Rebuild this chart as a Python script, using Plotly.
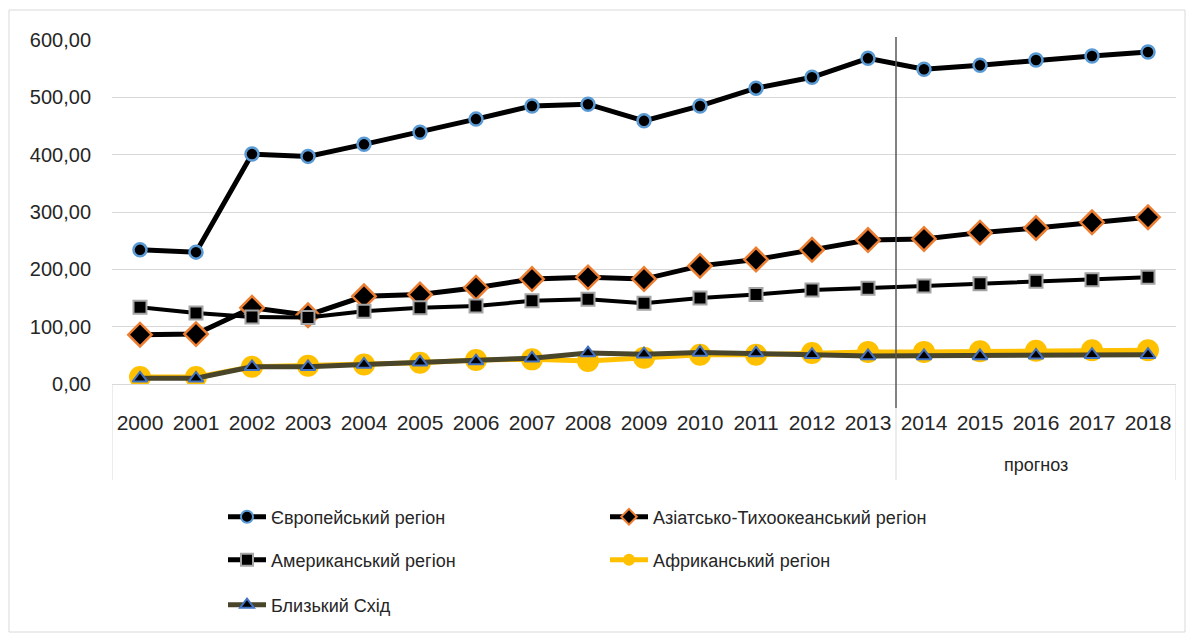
import plotly.graph_objects as go

years = ["2000", "2001", "2002", "2003", "2004", "2005", "2006", "2007", "2008", "2009",
         "2010", "2011", "2012", "2013", "2014", "2015", "2016", "2017", "2018"]

europe = [234, 230, 401, 397, 418, 439, 462, 485, 488, 459, 485, 516, 535, 568, 549, 556, 565, 572, 579]
asia = [86, 87, 133, 120, 153, 156, 168, 183, 186, 183, 206, 217, 234, 251, 253, 264, 272, 282, 291]
america = [134, 124, 117, 116, 127, 133, 136, 145, 148, 141, 150, 156, 164, 167, 171, 175, 179, 182, 186]
africa = [12, 12, 30, 32, 34, 37, 42, 43, 40, 46, 51, 51, 54, 56, 56, 57, 58, 59, 59]
mideast = [10, 10, 30, 30, 34, 38, 40, 45, 54, 52, 55, 54, 51, 49, 49, 49, 50, 51, 51]

forecast_label = "прогноз"
forecast_start = "2014"

W, H = 1192, 637
L, R, T, B = 112, 16, 40, 253
pw, ph = W - L - R, H - T - B

x = list(range(len(years)))

FONT = "Liberation Sans, Arial, sans-serif"
TXT = "#262626"


def px_x(px):
    return (px - L) / pw


def px_y(py):
    return (H - B - py) / ph


fig = go.Figure()
fig.add_trace(go.Scatter(
    x=x, y=europe, name="Європейський регіон", mode="lines+markers", legend="legend",
    line=dict(color="black", width=5),
    marker=dict(symbol="circle", size=13, color="black", line=dict(color="#5b9bd5", width=2.5))))
fig.add_trace(go.Scatter(
    x=x, y=asia, name="Азіатсько-Тихоокеанський регіон", mode="lines+markers", legend="legend",
    line=dict(color="black", width=5),
    marker=dict(symbol="diamond", size=18, color="black", line=dict(color="#ed7d31", width=2.5))))
fig.add_trace(go.Scatter(
    x=x, y=america, name="Американський регіон", mode="lines+markers", legend="legend2",
    line=dict(color="black", width=4),
    marker=dict(symbol="square", size=13, color="black", line=dict(color="#a5a5a5", width=2))))
fig.add_trace(go.Scatter(
    x=x, y=africa, name="Африканський регіон", mode="lines+markers", legend="legend2",
    line=dict(color="#ffc000", width=5),
    marker=dict(symbol="circle", size=22, color="#ffc000", line=dict(color="#ffc000", width=0))))
fig.add_trace(go.Scatter(
    x=x, y=mideast, name="Близький Схід", mode="lines+markers", legend="legend3",
    line=dict(color="#48452b", width=5),
    marker=dict(symbol="triangle-up", size=13, color="black", line=dict(color="#4472c4", width=2))))

split = years.index(forecast_start) - 0.5
n = len(years)

shapes = [
    dict(type="line", xref="x", yref="paper", x0=split, x1=split, y0=px_y(408), y1=px_y(37),
         line=dict(color="#595959", width=1.5), layer="above"),
    dict(type="line", xref="x", yref="paper", x0=split, x1=split, y0=px_y(480), y1=px_y(408),
         line=dict(color="#d9d9d9", width=1)),
    dict(type="line", xref="x", yref="paper", x0=-0.5, x1=-0.5, y0=px_y(480), y1=0,
         line=dict(color="#d9d9d9", width=1)),
    dict(type="line", xref="x", yref="paper", x0=n - 0.5, x1=n - 0.5, y0=px_y(480), y1=0,
         line=dict(color="#d9d9d9", width=1)),
    dict(type="rect", xref="paper", yref="paper",
         x0=px_x(9), x1=px_x(1185), y0=px_y(632), y1=px_y(10),
         line=dict(color="#d9d9d9", width=1)),
]


def leg(row_y):
    return dict(orientation="h", x=px_x(223), y=px_y(row_y), xanchor="left", yanchor="middle",
                entrywidth=329, itemwidth=38, itemsizing="constant",
                font=dict(family=FONT, size=18, color=TXT),
                traceorder="normal", bgcolor="rgba(0,0,0,0)")


fig.update_layout(
    width=W, height=H,
    margin=dict(l=L, r=R, t=T, b=B),
    paper_bgcolor="white", plot_bgcolor="white",
    font=dict(family=FONT, size=20, color=TXT),
    shapes=shapes,
    annotations=[dict(text=forecast_label, xref="x", yref="paper",
                      x=(split + n - 0.5) / 2, y=px_y(465), yanchor="middle", showarrow=False,
                      font=dict(family=FONT, size=18, color=TXT))],
    legend=leg(517),
    legend2=leg(560),
    legend3=leg(605),
    xaxis=dict(range=[-0.5, n - 0.5], tickmode="array", tickvals=x, ticktext=years,
               showgrid=False, zeroline=False, showline=True, linecolor="#d9d9d9", linewidth=1,
               ticks="", ticklabelstandoff=20, tickfont=dict(family=FONT, size=21, color=TXT)),
    yaxis=dict(range=[0, 600], tickmode="array", tickvals=[0, 100, 200, 300, 400, 500, 600],
               ticktext=["0,00", "100,00", "200,00", "300,00", "400,00", "500,00", "600,00"],
               showgrid=True, gridcolor="#d9d9d9", gridwidth=1, zeroline=False, showline=False,
               ticks="", ticklabelstandoff=20, tickfont=dict(family=FONT, size=20, color=TXT)),
    showlegend=True,
)

fig.write_html("out.html", config={"displayModeBar": False},
               post_script="document.body.style.margin='0px';")
